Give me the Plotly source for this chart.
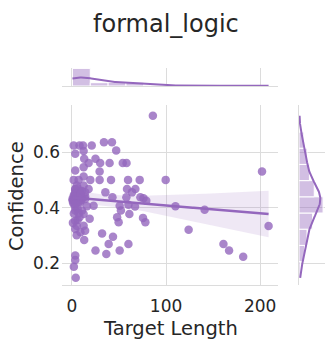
import numpy as np
import plotly.graph_objects as go

TITLE = "formal_logic"
X_LABEL = "Target Length"
Y_LABEL = "Confidence"

target_length = [
    86, 1.8, 8, 11.7, 21, 34, 42.5, 47,
    3.5, 12.4, 13, 25, 17.7, 30, 40, 54, 58,
    3.5, 12.4, 29.4,
    1.8, 7, 12.4, 19.5, 29.4, 41.5, 59.6, 72,
    3.5, 12.4, 17.7, 35.5, 58.5, 67.4, 63.8,
    43, 57.8, 72.7, 76, 79,
    3.5, 8.9, 14,
    1.8, 8.9, 23, 50.7, 60, 67,
    52, 3.5, 12.4, 18.8, 61, 48, 49.6, 75.5, 78,
    3.5, 12.4, 3.5, 9, 14, 32, 5, 13, 43.6,
    39, 25, 36.5, 50.7, 60,
    3.5, 3.5, 2, 4,
    99.6, 110, 141, 124, 161, 167, 182, 202, 209,
    3.5, 8.9, 2, 14, 3.5, 10.6, 0.5, 10.6, 3.5, 14,
    1, 10, 3.5, 16, 2, 10.6, 6, 8, 2, 6,
    6, 2, 5, 1, 7, 1, 5, 9, 4, 7,
]
confidence = [
    0.731, 0.624, 0.624, 0.624, 0.624, 0.636, 0.636, 0.606,
    0.594, 0.604, 0.576, 0.576, 0.561, 0.561, 0.561, 0.561, 0.561,
    0.534, 0.546, 0.530,
    0.50, 0.50, 0.512, 0.50, 0.50, 0.50, 0.50, 0.50,
    0.467, 0.48, 0.467, 0.455, 0.467, 0.467, 0.455,
    0.437, 0.437, 0.437, 0.434, 0.425,
    0.437, 0.437, 0.431,
    0.413, 0.419, 0.407, 0.407, 0.41, 0.404,
    0.39, 0.39, 0.377, 0.36, 0.377, 0.365, 0.347, 0.363, 0.347,
    0.353, 0.335, 0.323, 0.311, 0.317, 0.307, 0.30, 0.283, 0.295,
    0.269, 0.245, 0.233, 0.245, 0.269,
    0.227, 0.211, 0.187, 0.147,
    0.50, 0.405, 0.392, 0.32, 0.269, 0.245, 0.223, 0.53, 0.334,
    0.465, 0.46, 0.445, 0.44, 0.455, 0.46, 0.43, 0.435, 0.45, 0.455,
    0.427, 0.427, 0.403, 0.405, 0.379, 0.39, 0.355, 0.365, 0.43, 0.47,
    0.395, 0.44, 0.335, 0.345, 0.42, 0.42, 0.48, 0.45, 0.415, 0.38,
]
x_ticks = [0, 100, 200]
y_ticks = [0.2, 0.4, 0.6]

COLOR = "#9467bd"
BAR_FILL = "rgba(148,103,189,0.42)"
GRID = "#dcdcdc"
FONT = "DejaVu Sans"
W, H = 333, 347


def _kde(values, grid):
    # gaussian kde, scott bandwidth (like scipy / seaborn)
    values = np.asarray(values, float)
    bw = values.std(ddof=1) * len(values) ** (-1 / 5)
    z = (grid[:, None] - values[None, :]) / bw
    return np.exp(-0.5 * z ** 2).sum(axis=1) / (len(values) * bw * np.sqrt(2 * np.pi))


def _reg_band(x, y, grid):
    x = np.asarray(x, float)
    y = np.asarray(y, float)
    n = len(x)
    slope, intercept = np.polyfit(x, y, 1)
    resid = y - (slope * x + intercept)
    s = np.sqrt((resid ** 2).sum() / (n - 2))
    sxx = ((x - x.mean()) ** 2).sum()
    fit = slope * grid + intercept
    half = 1.98 * s * np.sqrt(1 / n + (grid - x.mean()) ** 2 / sxx)
    return fit, fit - half, fit + half


xs = np.asarray(target_length, float)
ys = np.asarray(confidence, float)
n = len(xs)

x_edges = np.linspace(xs.min(), xs.max(), 12)
y_edges = np.linspace(ys.min(), ys.max(), 11)
x_counts, _ = np.histogram(xs, x_edges)
y_counts, _ = np.histogram(ys, y_edges)

gx = np.linspace(xs.min(), xs.max(), 200)
gy = np.linspace(ys.min(), ys.max(), 200)
kde_x = _kde(xs, gx) * n * (x_edges[1] - x_edges[0])
kde_y = _kde(ys, gy) * n * (y_edges[1] - y_edges[0])
fit, lo, hi = _reg_band(xs, ys, gx)

fig = go.Figure()

# regression band + line
fig.add_trace(go.Scatter(x=np.concatenate([gx, gx[::-1]]), y=np.concatenate([hi, lo[::-1]]),
                         fill="toself", fillcolor="rgba(148,103,189,0.15)", line=dict(width=0),
                         hoverinfo="skip", xaxis="x", yaxis="y"))
fig.add_trace(go.Scatter(x=xs, y=ys, mode="markers",
                         marker=dict(color=COLOR, size=8.5, opacity=0.8, line=dict(width=0)),
                         xaxis="x", yaxis="y"))
fig.add_trace(go.Scatter(x=gx, y=fit, mode="lines", line=dict(color=COLOR, width=2.5),
                         xaxis="x", yaxis="y"))

# top marginal
fig.add_trace(go.Bar(x=(x_edges[:-1] + x_edges[1:]) / 2, y=x_counts, width=np.diff(x_edges),
                     marker=dict(color=BAR_FILL, line=dict(color="white", width=1)),
                     xaxis="x2", yaxis="y2"))
fig.add_trace(go.Scatter(x=gx, y=kde_x, mode="lines", line=dict(color=COLOR, width=2),
                         xaxis="x2", yaxis="y2"))

# right marginal
fig.add_trace(go.Bar(y=(y_edges[:-1] + y_edges[1:]) / 2, x=y_counts, width=np.diff(y_edges),
                     orientation="h",
                     marker=dict(color=BAR_FILL, line=dict(color="white", width=1)),
                     xaxis="x3", yaxis="y3"))
fig.add_trace(go.Scatter(x=kde_y, y=gy, mode="lines", line=dict(color=COLOR, width=2),
                         xaxis="x3", yaxis="y3"))

x_dom = [62 / W, 278 / W]
y_dom = [1 - 285 / H, 1 - 105 / H]
x_range = [-10.6, 219]
y_range = [0.121, 0.77]
top_max = max(x_counts.max(), kde_x.max()) * 1.05
right_max = max(y_counts.max(), kde_y.max()) * 1.08

fig.update_layout(
    width=W, height=H, margin=dict(l=0, r=0, t=0, b=0),
    plot_bgcolor="white", paper_bgcolor="white", showlegend=False,
    font=dict(family=FONT, color="#262626"),
    xaxis=dict(domain=x_dom, range=x_range, tickvals=x_ticks, showgrid=True, gridcolor=GRID,
               zeroline=False, showline=True, linecolor=GRID, ticks="", anchor="y",
               tickfont=dict(size=17), ticklabelstandoff=6),
    yaxis=dict(domain=y_dom, range=y_range, tickvals=y_ticks, showgrid=True, gridcolor=GRID,
               zeroline=False, showline=False, ticks="", anchor="x",
               tickfont=dict(size=17), ticklabelstandoff=1),
    xaxis2=dict(domain=x_dom, range=x_range, tickvals=x_ticks, showgrid=True, gridcolor=GRID,
                showticklabels=False, zeroline=False, showline=True, linecolor=GRID, ticks="",
                anchor="y2"),
    yaxis2=dict(domain=[1 - 86 / H, 1 - 67.5 / H], range=[0, top_max],
                showgrid=False, showticklabels=False, zeroline=False, anchor="x2"),
    xaxis3=dict(domain=[299 / W, 325 / W], range=[0, right_max], showgrid=False,
                showticklabels=False, zeroline=False, anchor="y3"),
    yaxis3=dict(domain=y_dom, range=y_range, tickvals=y_ticks, showgrid=True, gridcolor=GRID,
                showticklabels=False, zeroline=False, showline=True, linecolor=GRID, ticks="",
                anchor="x3"),
    annotations=[
        dict(text=TITLE, x=166 / W, y=1 - 24 / H, xref="paper", yref="paper",
             showarrow=False, xanchor="center", yanchor="middle", font=dict(size=24)),
        dict(text=X_LABEL, x=170 / W, y=1 - 328 / H, xref="paper", yref="paper",
             showarrow=False, xanchor="center", yanchor="middle", font=dict(size=19.5)),
        dict(text=Y_LABEL, x=16 / W, y=1 - 196 / H, xref="paper", yref="paper", textangle=-90,
             showarrow=False, xanchor="center", yanchor="middle", font=dict(size=19.5)),
    ],
)

# the page's default body margin would shift the figure by 8px
fig.write_html("out.html", config={"displayModeBar": False},
               post_script="document.body.style.margin='0';")
